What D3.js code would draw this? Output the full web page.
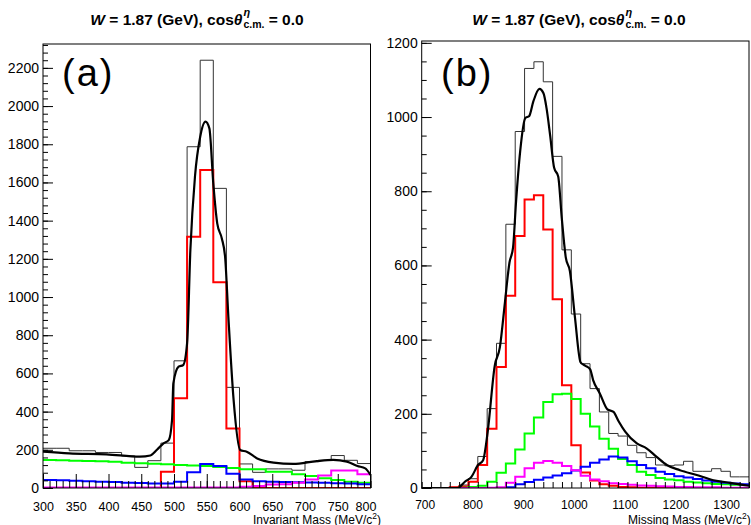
<!DOCTYPE html>
<html>
<head>
<meta charset="utf-8">
<script src="https://cdn.jsdelivr.net/npm/d3@7"></script>
<style>
  body { margin: 0; background: #fff; }
  svg { display: block; }
  text { font-family: "Liberation Sans", Arial, Helvetica, sans-serif; fill: #000; }
</style>
</head>
<body>
<svg id="chart" width="751" height="525"></svg>
<script>
// ---- panel (a): invariant mass, 25 bins of 20 MeV from 300 to 800
const massRangeA = [300, 800];
const dataA    = [208, 208, 195, 195, 186, 186, 168, 108, 143, 235, 666, 1787, 2240, 1569, 527, 126, 82, 100, 100, 93, 138, 145, 170, 145, 128];
const etaA     = [0, 0, 0, 0, 0, 0, 0, 0, 0, 85, 470, 1316, 1665, 1077, 312, 35, 2, 0, 0, 0, 0, 0, 0, 0, 0];
const greenA   = [147, 145, 143, 141, 140, 138, 132, 130, 127, 125, 120, 118, 115, 110, 105, 98, 98, 85, 85, 72, 63, 51, 42, 33, 28];
const blueA    = [42, 40, 38, 36, 33, 31, 28, 26, 24, 23, 33, 82, 126, 115, 75, 45, 36, 33, 32, 30, 29, 27, 25, 23, 20];
const magentaA = [2, 2, 2, 2, 2, 2, 2, 2, 2, 2, 2, 2, 2, 2, 3, 6, 10, 18, 20, 28, 45, 65, 91, 91, 72];
// total fit (mass, counts)
const fitA = [[300,190],[340,181],[397,176],[448,164],[464,170],[474,200],[484,234],[492,251],[497,356],
  [499,548],[507,635],[514,644],[520,759],[525,1246],[532,1630],[540,1839],[548,1918],[554,1883],[560,1595],
  [566,1386],[573,1307],[578,1211],[583,897],[591,461],[601,199],[611,190],[627,155],[652,133],[682,126],
  [718,141],[743,147],[764,138],[780,115],[792,103],[800,68]];
const xTicksA = [300, 350, 400, 450, 500, 550, 600, 650, 700, 750, 800];
const yTicksA = [0, 200, 400, 600, 800, 1000, 1200, 1400, 1600, 1800, 2000, 2200];

// ---- panel (b): missing mass, 35 bins from 700 to 1345
const massRangeB = [700, 1345];
const dataB    = [0, 0, 0, 2, 8, 25, 85, 214, 390, 711, 961, 1131, 1149, 1095, 894, 642, 469, 335, 268, 205, 147, 140, 115, 95, 82, 62, 60, 62, 72, 45, 45, 52, 45, 30, 30];
const etaB     = [0, 0, 0, 2, 4, 17, 62, 160, 326, 518, 679, 778, 789, 697, 509, 277, 115, 42, 20, 10, 6, 3, 2, 1, 1, 0, 0, 0, 0, 0, 0, 0, 0, 0, 0];
const greenB   = [0, 0, 0, 0, 1, 3, 6, 17, 41, 66, 104, 147, 190, 232, 253, 254, 240, 200, 166, 133, 106, 78, 62, 44, 35, 27, 23, 21, 17, 15, 13, 11, 10, 9, 8];
const blueB    = [0, 0, 0, 0, 0, 0, 0, 0, 0, 2, 10, 16, 22, 28, 34, 40, 47, 57, 68, 77, 85, 82, 72, 62, 53, 44, 38, 32, 28, 24, 20, 17, 14, 12, 10];
const magentaB = [0, 0, 0, 0, 0, 0, 0, 1, 2, 14, 30, 53, 68, 73, 68, 59, 48, 33, 23, 18, 13, 11, 9, 7, 6, 5, 4, 3, 3, 2, 2, 2, 1, 1, 1];
const fitB = [[700,0],[770,0],[776,4],[785,17],[798,30],[811,62],[821,75],[830,151],[844,330],[854,379],[864,500],
  [873,608],[880,648],[886,773],[894,907],[904,997],[912,1003],[920,1042],[932,1076],[940,1064],[946,1024],
  [953,952],[961,863],[969,840],[976,728],[984,621],[992,585],[1002,460],[1013,339],[1022,330],[1032,320],
  [1038,290],[1051,255],[1066,212],[1078,205],[1088,180],[1101,152],[1124,120],[1143,107],[1163,84],
  [1183,62],[1209,48],[1242,35],[1275,21],[1308,14],[1345,6]];
const xTicksB = [700, 800, 900, 1000, 1100, 1200, 1300];
const yTicksB = [0, 200, 400, 600, 800, 1000, 1200];

const svg = d3.select("#chart");

function drawTitle(cx) {
  const g = svg.append("g").attr("font-weight", "bold");
  const t = g.append("text").attr("y", 25).attr("font-size", 15.5);
  t.append("tspan").attr("font-style", "italic").text("W");
  t.append("tspan").text("\u00a0= 1.87 (GeV), cos");
  t.append("tspan").attr("font-style", "italic").text("θ");
  const w1 = t.node().getComputedTextLength();
  g.append("text").attr("x", w1 + 1).attr("y", 16).attr("font-size", 11)
    .attr("font-style", "italic").text("η");
  const sub = g.append("text").attr("x", w1 + 1).attr("y", 28).attr("font-size", 10.5).text("c.m.");
  const w2 = w1 + 1 + sub.node().getComputedTextLength();
  g.append("text").attr("x", w2).attr("y", 25).attr("font-size", 15.5).text("\u00a0= 0.0");
  const bb = g.node().getBBox();
  g.attr("transform", `translate(${cx - bb.width / 2 - bb.x},0)`);
}

function panel(o) {
  const x = d3.scaleLinear().domain(o.xDomain).range([o.left, o.right]);
  const y = d3.scaleLinear().domain(o.yDomain).range([o.bottom, o.top]);
  const g = svg.append("g");

  svg.append("clipPath").attr("id", "clip" + o.name).append("rect")
    .attr("x", o.left).attr("y", o.top)
    .attr("width", o.right - o.left).attr("height", o.bottom - o.top);

  const n = o.data.length;
  const bw = (o.xDomain[1] - o.xDomain[0]) / n;
  const edges = d3.range(n + 1).map(i => o.xDomain[0] + i * bw);
  const steps = vals => vals.flatMap((v, i) => [[edges[i], v], [edges[i + 1], v]]);
  const line = d3.line().x(d => x(d[0])).y(d => y(d[1]));

  const plot = g.append("g").attr("clip-path", `url(#clip${o.name})`);
  plot.append("path").datum(steps(o.data)).attr("d", line)
    .attr("fill", "none").attr("stroke", "#333").attr("stroke-width", 1);
  const hists = [[o.eta, "#ff0000"], [o.green, "#00ff00"], [o.blue, "#0000ff"], [o.magenta, "#ff00ff"]];
  hists.forEach(([vals, col]) => {
    plot.append("path").datum(steps(vals)).attr("d", line)
      .attr("fill", "none").attr("stroke", col).attr("stroke-width", 2);
  });
  plot.append("path").datum(o.fit)
    .attr("d", d3.line().x(d => x(d[0])).y(d => y(d[1])).curve(d3.curveMonotoneX))
    .attr("fill", "none").attr("stroke", "#000").attr("stroke-width", 2.2);

  // axes, ticks pointing inside the frame
  const bottom = g.append("g").attr("transform", `translate(0,${o.bottom})`);
  bottom.append("g").call(d3.axisBottom(x).tickValues(o.xMinor).tickSize(-o.xMinorLen).tickFormat(""));
  const labs = bottom.append("g").call(d3.axisBottom(x).tickValues(o.xTicks).tickSize(-o.xMajorLen)
      .tickPadding(o.xPad).tickFormat(d3.format("d")))
    .selectAll("text").attr("font-size", o.xFont);
  // end labels are pulled inside like the original
  labs.filter(d => d === o.xDomain[0]).attr("dx", o.firstShift);
  labs.filter(d => d === o.xTicks[o.xTicks.length - 1] && d === o.xDomain[1]).attr("dx", -5);

  const left = g.append("g").attr("transform", `translate(${o.left},0)`);
  left.append("g").call(d3.axisLeft(y).tickValues(o.yMinor).tickSize(-5).tickFormat(""));
  left.append("g").call(d3.axisLeft(y).tickValues(o.yTicks).tickSize(-10)
      .tickPadding(4).tickFormat(d3.format("d")))
    .selectAll("text").attr("font-size", 14);

  g.selectAll(".domain").remove();
  g.selectAll(".tick line").attr("stroke", "#000");
  g.selectAll(".tick text").attr("font-family", null);

  g.append("rect").attr("x", o.left).attr("y", o.top)
    .attr("width", o.right - o.left).attr("height", o.bottom - o.top)
    .attr("fill", "none").attr("stroke", "#000").attr("stroke-width", 1);

  g.append("text").attr("x", o.tagX).attr("y", 86).attr("font-size", 38)
    .attr("letter-spacing", 2).text(o.tag);

  const at = g.append("text").attr("x", o.axisX).attr("y", 524).attr("font-size", 12)
    .attr("text-anchor", o.axisAnchor);
  at.append("tspan").text(o.axisTitle + " (MeV/c");
  at.append("tspan").attr("dy", -5).attr("font-size", 8.5).text("2");
  at.append("tspan").attr("dy", 5).text(")");
}

drawTitle(197);
drawTitle(579);

panel({
  name: "a", left: 43, right: 370.5, top: 44, bottom: 488,
  xDomain: massRangeA, yDomain: [0, 2325],
  data: dataA, eta: etaA, green: greenA, blue: blueA, magenta: magentaA, fit: fitA,
  xTicks: xTicksA, xMinor: d3.range(300, 801, 10), xMajorLen: 14, xMinorLen: 7, xPad: 14, xFont: 12.5,
  firstShift: 0,
  yTicks: yTicksA, yMinor: d3.range(0, 2321, 40),
  tag: "(a)", tagX: 62, axisTitle: "Invariant Mass", axisX: 381, axisAnchor: "end"
});

panel({
  name: "b", left: 421.7, right: 749, top: 41, bottom: 488,
  xDomain: massRangeB, yDomain: [0, 1205],
  data: dataB, eta: etaB, green: greenB, blue: blueB, magenta: magentaB, fit: fitB,
  xTicks: xTicksB, xMinor: d3.range(dataB.length + 1).map(i => 700 + i * (1345 - 700) / dataB.length),
  xMajorLen: 0, xMinorLen: 6, xPad: 12, xFont: 12,
  firstShift: 3,
  yTicks: yTicksB, yMinor: d3.range(0, 1201, 50),
  tag: "(b)", tagX: 441, axisTitle: "Missing Mass", axisX: 628, axisAnchor: "start"
});
</script>
</body>
</html>
